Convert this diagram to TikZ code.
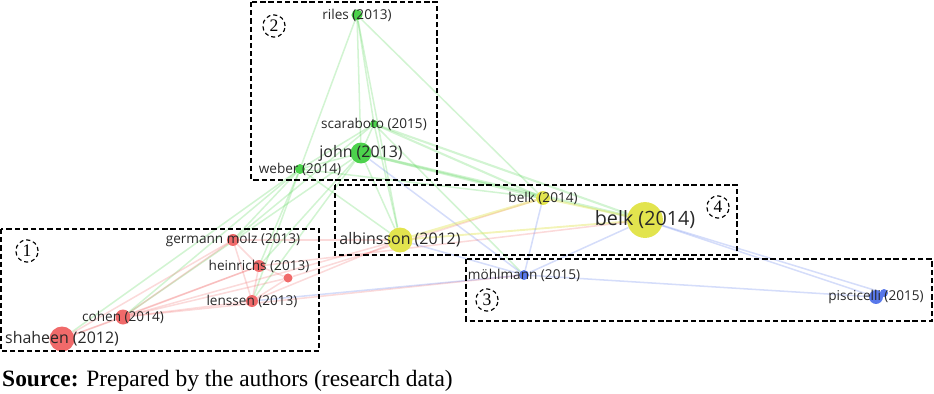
\documentclass[tikz,border=0pt]{standalone}
\usepackage{fontspec}
\setmainfont{Liberation Serif}
\newfontfamily\vosfont{Open Sans}
\usetikzlibrary{positioning,backgrounds}
\definecolor{vred}{RGB}{240,106,106}
\definecolor{vgreen}{RGB}{76,210,76}
\definecolor{vyellow}{RGB}{226,228,78}
\definecolor{vblue}{RGB}{88,120,234}
\definecolor{vtext}{RGB}{40,40,40}
\tikzstyle{nod}=[circle, inner sep=0pt, draw=none]
\tikzstyle{rnod}=[nod, fill=vred]
\tikzstyle{gnod}=[nod, fill=vgreen]
\tikzstyle{ynod}=[nod, fill=vyellow]
\tikzstyle{bnod}=[nod, fill=vblue]
\tikzstyle{lab}=[text=vtext, font=\vosfont\fontsize{11.6}{12}\selectfont]
\tikzstyle{labm}=[text=vtext, font=\vosfont\fontsize{13.6}{14}\selectfont]
\tikzstyle{labb}=[text=vtext, font=\vosfont\fontsize{16.8}{18}\selectfont]
\tikzstyle{redge}=[draw=vred, opacity=0.25, line width=1.3pt]
\tikzstyle{gedge}=[draw=vgreen, opacity=0.25, line width=1.3pt]
\tikzstyle{yedge}=[draw=vyellow, opacity=0.4, line width=1.3pt]
\tikzstyle{bedge}=[draw=vblue, opacity=0.25, line width=1.3pt]
\tikzstyle{clu}=[draw=black, line width=1.2pt, dash pattern=on 4.5pt off 2.5pt]
\tikzstyle{num}=[circle, draw, line width=1pt, dash pattern=on 3.5pt off 2.5pt, minimum size=19pt, inner sep=0pt, font=\fontsize{15}{15}\selectfont]

\begin{document}
\begin{tikzpicture}[x=0.03cm, y=-0.03cm]
\useasboundingbox (0,0) rectangle (934,393);
% cluster 2
\node[gnod, minimum size=9.4pt] (riles) at (357,15) {};
\node[gnod, minimum size=6.8pt] (scaraboto) at (374,124) {};
\node[gnod, minimum size=17.9pt] (john) at (361,153) {};
\node[gnod, minimum size=8.5pt] (weber) at (300,169) {};
% cluster 4
\node[ynod, minimum size=11.9pt] (belka) at (543,198) {};
\node[ynod, minimum size=30.6pt] (belkb) at (645,220) {};
\node[ynod, minimum size=21.3pt] (albinsson) at (400,240) {};
% cluster 3
\node[bnod, minimum size=8.5pt] (mohlmann) at (524,275) {};
\node[bnod, minimum size=6.8pt] (pisc) at (884,293) {};
\node[bnod, minimum size=11.9pt] (piscicelli) at (876,297) {};
% cluster 1
\node[rnod, minimum size=10.2pt] (germann) at (233,240) {};
\node[rnod, minimum size=10.2pt] (heinrichs) at (259,266) {};
\node[rnod, minimum size=7.7pt] (extra) at (288,278) {};
\node[rnod, minimum size=10.2pt] (lenssen) at (252,301) {};
\node[rnod, minimum size=12.8pt] (cohen) at (123,317) {};
\node[rnod, minimum size=21.3pt] (shaheen) at (62,339) {};

% labels
\node[lab] (lriles) at (riles) {riles (2013)};
\node[lab] (lscaraboto) at (scaraboto) {scaraboto (2015)};
\node[labm] (ljohn) at (john) {john (2013)};
\node[lab] (lweber) at (weber) {weber (2014)};
\node[lab] (lbelka) at (belka) {belk (2014)};
\node[labb] (lbelkb) at (belkb) {belk (2014)};
\node[labm] (lalbinsson) at (albinsson) {albinsson (2012)};
\node[lab] (lmohlmann) at (mohlmann) {möhlmann (2015)};
\node[lab] (lpiscicelli) at (piscicelli) {piscicelli (2015)};
\node[lab] (lgermann) at (germann) {germann molz (2013)};
\node[lab] (lheinrichs) at (heinrichs) {heinrichs (2013)};
\node[lab] (llenssen) at (lenssen) {lenssen (2013)};
\node[lab] (lcohen) at (cohen) {cohen (2014)};
\node[labm] (lshaheen) at (shaheen) {shaheen (2012)};

\begin{scope}[on background layer]
\draw[gedge](riles) -- (scaraboto);
\draw[gedge](riles) -- (john);
\draw[gedge](riles) -- (weber);
\draw[gedge](riles) -- (belka);
\draw[gedge](riles) -- (albinsson);
\draw[gedge](scaraboto) -- (john);
\draw[gedge](scaraboto) -- (weber);
\draw[gedge, line width=1.8pt](scaraboto) -- (belka);
\draw[gedge, line width=1.8pt](scaraboto) -- (belkb);
\draw[gedge](scaraboto) -- (albinsson);
\draw[gedge](scaraboto) -- (mohlmann);
\draw[gedge](scaraboto) -- (germann);
\draw[gedge](john) -- (weber);
\draw[gedge, line width=2.2pt](john) -- (belka);
\draw[gedge, line width=2.2pt](john) -- (belkb);
\draw[gedge](john) -- (albinsson);
\draw[bedge](john) -- (mohlmann);
\draw[gedge](john) -- (lenssen);
\draw[gedge](john) -- (heinrichs);
\draw[gedge](john) -- (cohen);
\draw[gedge](weber) -- (germann);
\draw[gedge](weber) -- (heinrichs);
\draw[gedge](weber) -- (lenssen);
\draw[gedge](weber) -- (cohen);
\draw[gedge](weber) -- (shaheen);
\draw[gedge](weber) -- (albinsson);
\draw[gedge](weber) -- (belka);
\draw[redge](shaheen) -- (cohen);
\draw[redge](shaheen) -- (germann);
\draw[redge](shaheen) -- (heinrichs);
\draw[redge](cohen) -- (germann);
\draw[redge](cohen) -- (heinrichs);
\draw[redge](cohen) -- (lenssen);
\draw[redge](cohen) -- (extra);
\draw[redge](cohen) -- (albinsson);
\draw[redge](cohen) -- (mohlmann);
\draw[redge](germann) -- (heinrichs);
\draw[redge](germann) -- (lenssen);
\draw[redge](germann) -- (albinsson);
\draw[redge](heinrichs) -- (lenssen);
\draw[redge](heinrichs) -- (extra);
\draw[redge](heinrichs) -- (belkb);
\draw[redge](lenssen) -- (extra);
\draw[redge](lenssen) -- (albinsson);
\draw[bedge](lenssen) -- (mohlmann);
\draw[redge](extra) -- (belka);
\draw[yedge, line width=2.2pt](albinsson) -- (belka);
\draw[yedge, line width=1.6pt](albinsson) -- (belkb);
\draw[yedge, line width=1.8pt](belka) -- (belkb);
\draw[bedge](albinsson) -- (mohlmann);
\draw[bedge](belka) -- (mohlmann);
\draw[bedge](belkb) -- (mohlmann);
\draw[bedge](belkb) -- (piscicelli);
\draw[bedge](belkb) -- (pisc);
\draw[bedge](mohlmann) -- (piscicelli);
\end{scope}

% cluster boxes
\draw[clu] (1,229) rectangle (319,351);
\draw[clu] (251,2) rectangle (437,180);
\draw[clu] (335,185) rectangle (737,255);
\draw[clu] (466,259) rectangle (932,321);
\node[num] (n1) at (27,251) {1};
\node[num] (n2) at (274,26) {2};
\node[num] (n4) at (718,207) {4};
\node[num] (n3) at (487,300) {3};

\node[anchor=base west, inner sep=0pt, font=\fontsize{20}{22}\selectfont] (src) at (2,386) {\textbf{Source:} Prepared by the authors (research data)};
\end{tikzpicture}
\end{document}
